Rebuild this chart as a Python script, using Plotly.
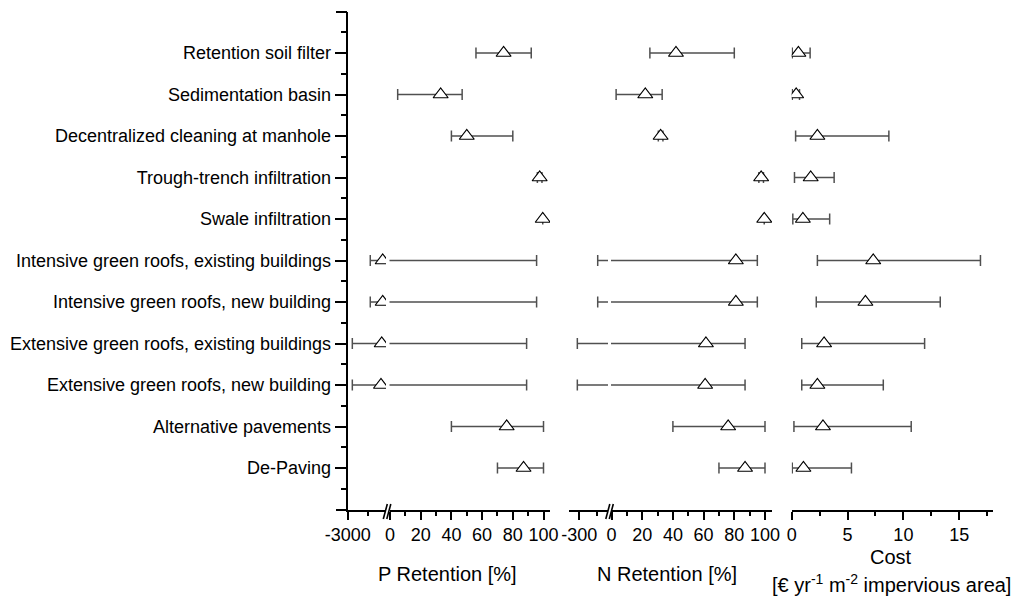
import plotly.graph_objects as go

# ---------------- data ----------------
categories = [
    "Retention soil filter",
    "Sedimentation basin",
    "Decentralized cleaning at manhole",
    "Trough-trench infiltration",
    "Swale infiltration",
    "Intensive green roofs, existing buildings",
    "Intensive green roofs, new building",
    "Extensive green roofs, existing buildings",
    "Extensive green roofs, new building",
    "Alternative pavements",
    "De-Paving",
]

# P retention [%]  (mean, lower, upper)
p_mean = [74, 33, 50, 97.5, 99.5, -350, -350, -425, -480, 76, 87]
p_lo = [56, 5, 40, 96, 99.5, -1290, -1290, -2650, -2650, 40, 70]
p_hi = [92, 47, 80, 99, 99.5, 95.5, 95.5, 89, 89, 100, 100]

# N retention [%]
n_mean = [42, 22, 32, 97.5, 99.5, 81, 81, 61.5, 61, 76, 87]
n_lo = [25, 3, 30.5, 96, 99.5, -146, -146, -316, -316, 40, 70]
n_hi = [80, 33, 33.5, 99, 99.5, 95, 95, 87, 87, 100, 100]

# Cost [EUR / yr / m2 impervious area]
cost_mean = [0.6, 0.4, 2.3, 1.7, 1.0, 7.3, 6.6, 2.9, 2.3, 2.8, 1.05]
cost_lo = [0.05, 0.05, 0.35, 0.25, 0.1, 2.3, 2.2, 0.9, 0.9, 0.2, 0.05]
cost_hi = [1.65, 0.7, 8.7, 3.8, 3.4, 16.9, 13.3, 11.9, 8.2, 10.7, 5.35]

p_ticks_left = [-3000]
n_ticks_left = [-300]
pct_ticks = [0, 20, 40, 60, 80, 100]
cost_ticks = [0, 5, 10, 15]

# ---------------- layout helpers ----------------
W, H = 1015, 597


def fx(x):
    return x / W


def fy(y):
    return 1 - y / H


FONT = "Liberation Sans, Arial, sans-serif"
rows = list(range(len(categories)))


def left_part(vals, lows):
    # rows whose range reaches into the negative (left) part of a broken axis
    return [v if l < 0 else None for v, l in zip(vals, lows)]


fig = go.Figure()

series = [
    ("x", left_part(p_mean, p_lo), left_part(p_lo, p_lo), left_part(p_hi, p_lo)),
    ("x2", p_mean, p_lo, p_hi),
    ("x3", left_part(n_mean, n_lo), left_part(n_lo, n_lo), left_part(n_hi, n_lo)),
    ("x4", n_mean, n_lo, n_hi),
    ("x5", cost_mean, cost_lo, cost_hi),
]
for xa, m, lo, hi in series:
    plus = [None if v is None else h - v for h, v in zip(hi, m)]
    minus = [None if v is None else v - l for v, l in zip(m, lo)]
    fig.add_trace(go.Scatter(
        x=m, y=rows, xaxis=xa, yaxis="y", mode="markers",
        marker=dict(symbol="triangle-up", size=13, color="white",
                    line=dict(color="black", width=1.2)),
        error_x=dict(type="data", symmetric=False, array=plus,
                     arrayminus=minus, color="#505050", thickness=1.5,
                     width=5.5),
        hoverinfo="skip", showlegend=False, cliponaxis=True,
    ))

base_x = dict(anchor="y", showline=True, linewidth=2, linecolor="black",
              ticks="outside", ticklen=8, tickwidth=2, tickcolor="black",
              showgrid=False, zeroline=False, automargin=False,
              tickfont=dict(size=18, family=FONT, color="black"))


def minor(vals, ln=4):
    return dict(tickmode="array", tickvals=vals, ticks="outside",
                ticklen=ln, tickwidth=1.5, tickcolor="black", showgrid=False)


y_dom = [fy(509.5), fy(11.5)]

fig.update_layout(
    template="none",
    width=W, height=H,
    margin=dict(l=0, r=0, t=0, b=0, pad=0),
    paper_bgcolor="white", plot_bgcolor="white",
    font=dict(family=FONT, size=18, color="black"),
    showlegend=False,
    xaxis=dict(base_x, domain=[fx(347.7), fx(386)], range=[-3000, -100],
               tickmode="array", tickvals=p_ticks_left,
               ticktext=[str(v) for v in p_ticks_left],
               minor=minor([-1500])),
    xaxis2=dict(base_x, domain=[fx(389.5), fx(550)], range=[-0.33, 104.23],
                tickmode="array", tickvals=pct_ticks,
                ticktext=[str(v) for v in pct_ticks],
                minor=minor([10, 30, 50, 70, 90])),
    xaxis3=dict(base_x, domain=[fx(569.3), fx(608)], range=[-383, -60],
                tickmode="array", tickvals=n_ticks_left,
                ticktext=[str(v) for v in n_ticks_left],
                minor=minor([-150])),
    xaxis4=dict(base_x, domain=[fx(611), fx(772)], range=[-0.33, 104.56],
                tickmode="array", tickvals=pct_ticks,
                ticktext=[str(v) for v in pct_ticks],
                minor=minor([10, 30, 50, 70, 90])),
    xaxis5=dict(base_x, domain=[fx(791.7), fx(993.3)], range=[0, 18.05],
                tickmode="array", tickvals=cost_ticks,
                ticktext=[str(v) for v in cost_ticks],
                minor=minor([2.5, 7.5, 12.5, 17.5])),
    yaxis=dict(anchor="x", domain=y_dom, range=[11, -1],
               showline=True, linewidth=2, linecolor="black",
               ticks="outside", ticklen=11, tickwidth=2, tickcolor="black",
               showgrid=False, zeroline=False, automargin=False,
               tickmode="array", tickvals=rows, ticktext=categories,
               tickfont=dict(size=18, family=FONT, color="black"),
               minor=minor([i - 0.5 for i in range(0, len(rows) + 1)], ln=5)),
    # end ticks of the category axis (top and bottom), no labels
    yaxis2=dict(anchor="x", overlaying="y", side="left", domain=y_dom,
                range=[11, -1], showline=False, showgrid=False,
                zeroline=False, automargin=False,
                ticks="outside", ticklen=11, tickwidth=2, tickcolor="black",
                tickmode="array", tickvals=[-1, len(rows)],
                showticklabels=False),
)

# invisible trace so the end-tick axis is drawn
fig.add_trace(go.Scatter(x=[None], y=[None], xaxis="x", yaxis="y2",
                         mode="markers", hoverinfo="skip", showlegend=False))

# axis-break marks
for (x0, x1) in [(383.3, 387.3), (386.8, 390.8), (605.8, 609.8), (609.3, 613.3)]:
    fig.add_shape(type="line", xref="paper", yref="paper",
                  x0=fx(x0), y0=fy(519), x1=fx(x1), y1=fy(504),
                  line=dict(color="black", width=1.6))

# axis titles
ann = [
    (447, 574, "P Retention [%]"),
    (667, 574, "N Retention [%]"),
    (891, 557, "Cost"),
    (891, 583, "[€ yr<sup>-1</sup> m<sup>-2</sup> impervious area]"),
]
for x, y, t in ann:
    fig.add_annotation(x=fx(x), y=fy(y), xref="paper", yref="paper",
                       text=t, showarrow=False, xanchor="center",
                       yanchor="middle",
                       font=dict(size=20, family=FONT, color="black"))

fig.write_html("out.html",
               config={"displayModeBar": False},
               post_script="document.body.style.margin='0px';"
                           "document.body.style.overflow='hidden';")
